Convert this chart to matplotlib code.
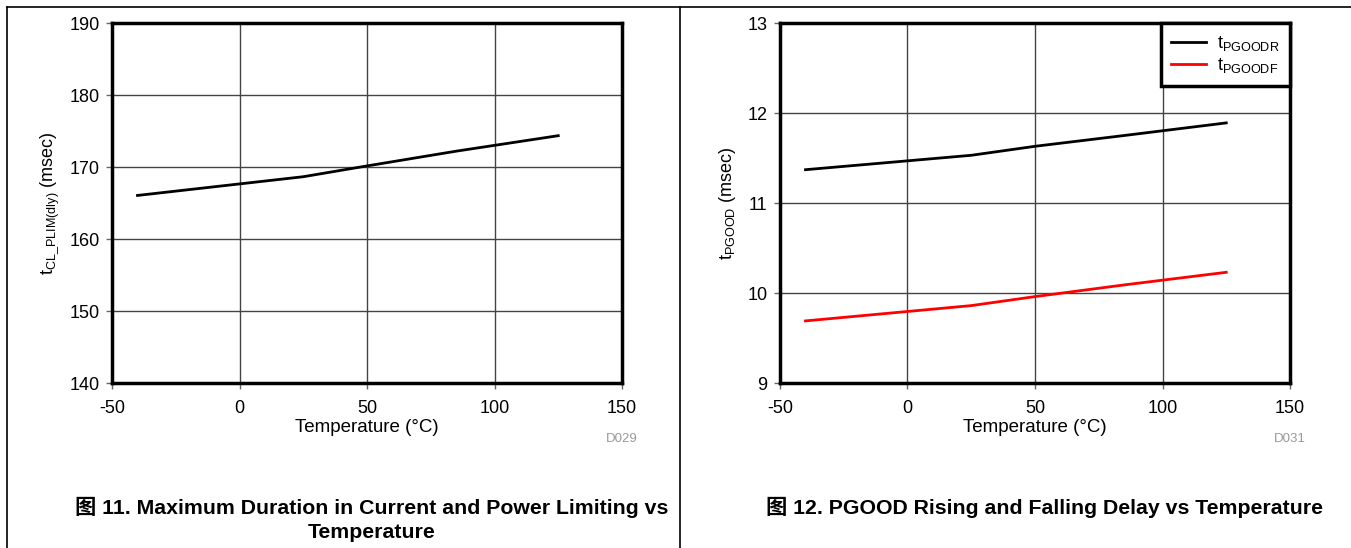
import matplotlib

matplotlib.use("Agg")
import matplotlib.pyplot as plt
from matplotlib.lines import Line2D

plt.rcParams["font.family"] = ["Liberation Sans", "Noto Sans CJK SC"]
plt.rcParams["mathtext.fontset"] = "custom"
plt.rcParams["mathtext.rm"] = "Liberation Sans"
plt.rcParams["axes.unicode_minus"] = False

# figure 11: max duration in current / power limiting
temp_cl = [-40, 25, 50, 85, 125]
t_cl_plim = [166.05, 168.65, 170.15, 172.2, 174.35]

# figure 12: PGOOD rising / falling delay
temp_pg = [-40, 25, 50, 85, 125]
t_pgoodr = [11.37, 11.53, 11.63, 11.75, 11.89]
t_pgoodf = [9.69, 9.86, 9.96, 10.09, 10.23]

x_ticks = [-50, 0, 50, 100, 150]
W, H = 1351, 548


def _style(ax, yticks, code):
    ax.set_xlim(-50, 150)
    ax.set_ylim(yticks[0], yticks[-1])
    ax.set_xticks(x_ticks)
    ax.set_yticks(yticks)
    ax.grid(True, color="#444444", lw=1)
    ax.set_axisbelow(True)
    for s in ax.spines.values():
        s.set_linewidth(2.5)
    ax.tick_params(labelsize=13, length=4, width=1, color="#666666")
    ax.tick_params(axis="x", pad=8)
    ax.tick_params(axis="y", pad=5)
    ax.set_xlabel("Temperature (°C)", fontsize=13.5)
    ax.xaxis.set_label_coords(0.5, -0.1)
    ax.text(1.03, -0.14, code, transform=ax.transAxes, ha="right", va="top",
            fontsize=9.5, color="#999999")


fig = plt.figure(figsize=(W / 100, H / 100), dpi=100)

ax1 = fig.add_axes([112 / W, 1 - 383 / H, 510 / W, 360 / H])
ax1.plot(temp_cl, t_cl_plim, color="black", lw=2)
_style(ax1, [140, 150, 160, 170, 180, 190], "D029")
ax1.set_ylabel(r"$\mathregular{t_{CL\_PLIM(dly)}}$ (msec)", fontsize=13)
ax1.yaxis.set_label_coords(-0.1, 0.5)

ax2 = fig.add_axes([780 / W, 1 - 383 / H, 510 / W, 360 / H])
ax2.plot(temp_pg, t_pgoodr, color="black", lw=2, label=r"$\mathregular{t_{PGOODR}}$")
ax2.plot(temp_pg, t_pgoodf, color="#ff0000", lw=2, label=r"$\mathregular{t_{PGOODF}}$")
_style(ax2, [9, 10, 11, 12, 13], "D031")
ax2.set_ylabel(r"$\mathregular{t_{PGOOD}}$ (msec)", fontsize=13)
ax2.yaxis.set_label_coords(-0.082, 0.5)
leg = ax2.legend(loc="upper right", fontsize=13, fancybox=False, framealpha=1,
                 edgecolor="black", borderaxespad=0, handlelength=1.9,
                 handletextpad=0.6, labelspacing=0.2, borderpad=0.6)
leg.get_frame().set_linewidth(2.5)

# captions
fig.text(372 / W, 1 - 507 / H, "图 11. Maximum Duration in Current and Power Limiting vs",
         ha="center", va="center", fontsize=15.3, fontweight="bold")
fig.text(372 / W, 1 - 533 / H, "Temperature",
         ha="center", va="center", fontsize=15.3, fontweight="bold")
fig.text(1045 / W, 1 - 507 / H, "图 12. PGOOD Rising and Falling Delay vs Temperature",
         ha="center", va="center", fontsize=15.3, fontweight="bold")

# table frame
fig.add_artist(Line2D([7 / W, 1], [1 - 6.5 / H] * 2, color="black", lw=1.2))
fig.add_artist(Line2D([7 / W] * 2, [0, 1 - 6.5 / H], color="black", lw=1.2))
fig.add_artist(Line2D([680 / W] * 2, [0, 1 - 6.5 / H], color="black", lw=1.2))

fig.savefig("out.png", dpi=100)
